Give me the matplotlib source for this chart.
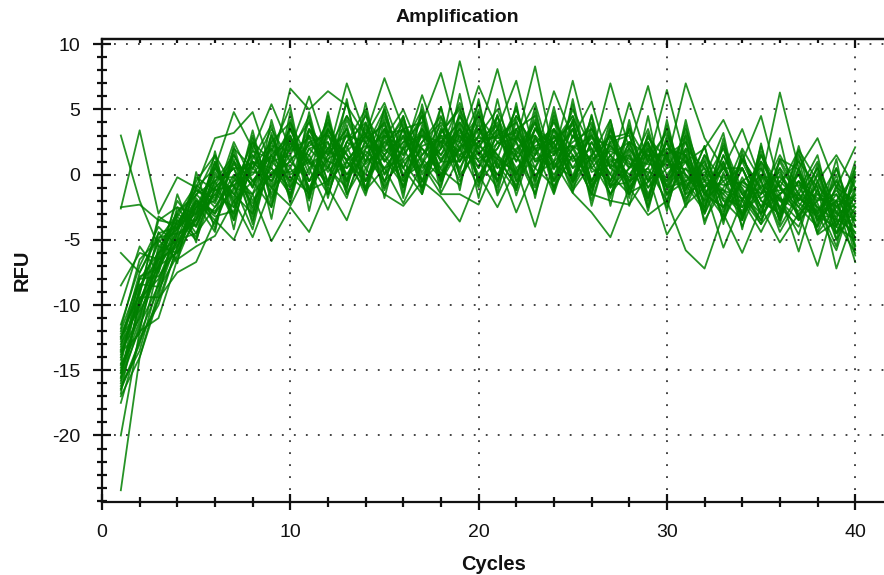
import matplotlib
matplotlib.use("Agg")
import matplotlib.pyplot as plt
from matplotlib.ticker import MultipleLocator

plt.rcParams["font.family"] = ["Liberation Sans", "DejaVu Sans"]
plt.rcParams["axes.unicode_minus"] = False

cycles = list(range(1, 41))

# RFU per well
s01 = [3.0,-2.0,-5.5,-4.2,-2.5,0.5,-1.5,1.0,-0.5,2.8,1.0,3.5,0.5,3.0,1.5,4.0,0.8,3.2,5.0,2.0,4.5,1.0,3.5,2.0,4.5,0.5,2.2,0.5,2.5,-0.5,1.5,-1.5,0.5,-2.0,1.0,-1.5,0.0,-3.0,-0.5,-2.5]
s02 = [-2.6,3.4,-3.0,-0.2,-1.0,2.8,3.2,4.8,0.5,6.6,5.0,6.4,5.3,3.0,5.5,1.5,6.1,2.0,8.7,3.0,8.1,2.5,8.3,1.5,7.2,1.5,7.0,2.0,6.8,1.0,7.0,2.8,0.5,3.5,-0.5,6.3,0.5,2.8,-1.0,2.1]
s03 = [-2.5,-2.3,-3.5,-3.8,-1.0,0.5,4.8,2.0,5.4,2.0,6.0,1.5,7.0,3.0,7.4,3.5,4.0,7.8,2.5,6.8,3.5,7.2,1.5,6.4,2.8,5.6,0.5,5.5,1.0,6.5,1.0,2.0,4.2,1.0,4.5,-1.0,1.9,-0.5,1.5,-1.0]
s04 = [-24.2,-14.0,-9.5,-7.5,-6.7,-3.5,-5.0,-1.5,-5.1,-2.5,-4.4,-1.0,-3.5,0.5,-1.5,-2.4,-0.5,-1.7,-3.6,0.0,-2.5,0.5,-4.0,1.0,-1.4,-2.9,-4.8,-1.0,-3.1,-2.0,-5.8,-7.2,-3.0,-6.0,-2.5,-5.2,-3.0,-7.0,-2.0,-6.7]
s05 = [-20.0,-12.0,-11.0,-6.5,-5.5,-4.7,-2.0,-4.8,-1.0,-2.4,0.5,-2.7,1.0,-1.2,0.5,-2.2,0.8,-1.5,-1.5,-2.3,1.0,-2.9,0.5,-0.9,1.5,-1.5,-2.0,-2.3,0.0,-4.6,-2.3,-1.0,-5.6,-2.0,-4.4,-1.5,-5.9,-1.0,-7.2,-3.0]
s06 = [-6.0,-7.5,-4.5,-4.0,-1.5,-0.5,1.5,-1.0,2.0,0.5,3.5,0.5,4.5,1.0,3.5,0.5,3.0,1.5,4.5,1.5,3.5,1.0,4.0,0.5,3.5,-0.5,2.5,3.0,-0.5,2.5,-0.5,1.0,-2.5,0.5,-2.5,1.0,-2.0,0.5,-4.0,-0.5]
s07 = [-8.5,-6.0,-6.5,-3.5,-3.5,1.0,-2.5,2.0,-1.5,3.0,-0.5,2.5,-0.5,4.0,0.0,3.5,-0.5,3.5,1.0,4.5,0.5,3.5,-0.5,3.5,0.5,3.0,-1.0,2.5,-1.5,1.5,2.5,-2.5,1.0,-3.5,0.5,-3.5,0.5,-3.5,0.0,-5.0]
s08 = [-10.0,-5.5,-7.5,-2.5,-4.5,-1.0,0.5,-2.5,1.5,-0.5,2.5,3.0,0.0,2.5,4.0,0.0,2.0,0.5,3.5,0.5,3.0,4.0,0.5,3.0,-0.5,2.5,0.0,-1.5,2.0,-1.0,1.0,-1.0,0.5,-1.5,-3.0,0.5,-1.5,-2.5,-3.5,1.0]
s09 = [-11.5,-7.0,-4.0,-5.5,-1.5,-3.0,1.0,-0.5,-2.5,2.5,-1.0,1.5,3.5,-0.5,2.5,1.5,3.5,-0.5,2.0,3.5,0.5,2.0,3.0,-0.5,3.0,1.0,-1.5,1.5,-1.0,1.5,-1.5,-0.5,-3.0,1.5,-2.0,-3.0,0.5,-3.5,-1.5,-4.5]
s10 = [-12.0,-8.0,-6.0,-4.0,-2.0,-3.5,-0.5,1.5,0.0,1.0,3.0,-0.5,2.5,1.5,-0.5,3.0,0.5,2.0,3.5,-0.5,2.5,3.5,1.0,1.5,3.5,-1.0,1.5,0.0,2.0,-1.5,0.5,-2.0,-0.5,0.5,-2.5,-0.5,-2.0,0.5,-2.5,-3.5]
s11 = [-12.5,-9.0,-5.0,-6.5,-3.0,-1.5,-2.5,0.5,2.5,-1.0,1.5,4.0,1.0,-0.5,3.0,2.0,-0.5,3.5,1.5,2.5,4.0,0.0,2.5,3.5,1.0,2.0,-0.5,2.0,0.0,2.5,-1.0,0.5,-1.5,-3.0,0.0,-2.0,-3.5,-0.5,-4.5,-1.5]
s12 = [-13.0,-10.0,-7.0,-3.0,-4.0,0.0,-1.5,-3.0,1.0,3.5,0.5,2.0,4.5,2.5,0.5,2.5,4.0,1.0,4.0,1.0,2.0,4.5,2.0,0.0,2.0,3.0,0.5,-0.5,3.0,0.0,2.0,-1.5,-2.5,-0.5,-1.5,1.5,-1.0,-3.0,-2.0,-5.5]
s13 = [-13.5,-11.0,-6.0,-5.0,-1.0,-2.5,0.0,-1.5,0.5,-1.5,2.0,0.5,-1.0,3.5,1.5,-0.5,1.5,3.0,0.5,3.0,1.5,0.0,3.5,2.0,-1.0,1.5,3.0,-0.5,0.5,-2.0,1.5,-3.0,0.0,-1.0,-3.5,-0.5,1.0,-1.0,-5.0,-2.5]
s14 = [-14.0,-9.5,-8.0,-4.5,-3.5,-0.5,-3.5,1.0,-0.5,1.5,-2.0,3.0,1.5,0.0,4.5,1.0,-1.0,2.5,4.0,2.0,-0.5,3.0,1.5,3.5,1.5,-0.5,2.0,1.0,-2.0,3.0,0.0,-1.0,1.0,-2.5,-1.0,-2.5,-0.5,-2.0,0.5,-3.5]
s15 = [-14.5,-12.0,-5.5,-6.0,-2.5,-2.0,1.5,-1.0,3.0,0.0,1.0,-1.5,2.5,4.0,1.0,3.5,2.0,0.0,2.5,4.5,2.5,1.5,-1.0,2.5,4.5,0.5,-0.5,3.5,1.0,-0.5,3.5,-0.5,-1.5,2.0,-0.5,-4.0,-1.5,1.0,-3.0,-4.0]
s16 = [-15.0,-10.5,-7.5,-3.5,-5.0,-1.0,0.5,0.5,-1.0,2.0,4.0,1.0,0.5,2.0,3.0,-1.0,2.5,4.0,2.0,-1.0,3.5,2.5,0.0,1.0,2.5,3.5,1.5,-1.5,1.5,1.5,-2.0,1.5,-2.0,-3.5,1.5,-1.0,-3.0,-1.5,-2.0,0.0]
s17 = [-15.5,-8.5,-6.5,-5.5,-2.0,-3.0,-1.0,2.5,1.0,-0.5,2.0,2.5,-1.5,1.0,2.0,4.5,-0.5,1.0,3.0,1.0,-1.0,3.5,4.5,-1.0,1.5,-1.5,3.5,0.5,1.5,-2.5,2.0,0.5,-3.5,-0.5,0.5,-2.5,-4.0,-0.5,-3.5,-6.0]
s18 = [-16.0,-11.5,-8.5,-4.0,-3.0,0.5,-2.0,-0.5,1.5,3.0,-0.5,0.5,3.0,2.5,-1.0,2.0,3.0,2.5,-0.5,2.5,3.0,0.5,2.0,2.5,-0.5,2.5,0.0,3.5,-0.5,1.0,0.0,-2.0,1.5,-1.5,-3.5,0.0,-2.5,-4.0,-1.0,-2.0]
s19 = [-16.5,-13.0,-7.0,-6.0,-3.5,-1.5,1.0,-2.0,0.0,2.0,1.5,-1.0,2.0,4.5,2.0,0.5,-1.5,3.0,2.5,0.5,4.5,-0.5,1.5,4.0,2.0,-1.0,1.0,1.5,-2.5,2.0,1.5,-3.5,-1.0,1.0,-2.0,-3.0,-0.5,-4.5,-2.5,-1.0]
s20 = [-17.0,-14.0,-9.0,-5.0,-4.5,-2.5,-0.5,0.0,2.0,-1.5,3.5,2.0,0.0,1.5,3.5,-1.0,3.5,1.5,3.5,1.5,0.0,2.5,-1.5,3.0,0.5,1.5,-1.0,0.5,2.5,-1.5,-0.5,0.0,-2.0,-2.0,1.0,-1.0,-2.5,0.0,-4.0,-5.0]
s21 = [-17.5,-12.5,-10.0,-5.5,-2.5,-1.0,-3.0,1.5,-1.0,0.5,-1.5,3.5,1.0,3.0,-0.5,1.0,2.5,4.5,1.0,3.5,1.5,-1.0,3.0,1.5,3.5,-2.0,2.5,-0.5,0.5,3.5,-1.5,1.5,-0.5,-3.0,-1.5,0.5,-3.5,-2.0,-1.5,-3.5]
s22 = [-11.8,-6.5,-5.0,-3.0,-0.8,-2.0,2.0,0.5,3.5,1.0,-0.5,2.0,3.0,0.5,2.5,3.5,1.0,-1.0,4.5,2.5,0.0,1.5,4.0,-0.5,2.0,4.0,-0.5,2.5,1.5,-1.0,2.5,-0.5,2.0,-1.5,0.0,-3.5,1.5,-1.5,-3.0,0.5]
s23 = [-12.8,-7.5,-4.8,-4.5,-0.5,1.5,-1.0,-1.5,2.5,4.0,1.0,-0.5,1.0,3.0,1.0,2.5,3.0,-0.5,3.0,0.0,2.0,5.0,1.0,2.5,4.0,-0.5,1.5,2.5,-1.0,0.5,3.0,-1.5,0.5,0.5,-3.0,-1.5,-0.5,-2.5,-4.5,-1.0]
s24 = [-14.2,-9.0,-3.5,-2.5,-3.0,1.0,-3.5,1.0,0.5,-1.0,2.5,1.0,5.5,-0.5,1.5,3.0,0.0,2.0,5.5,1.5,3.5,-0.5,3.5,1.0,5.0,2.0,-1.5,0.5,3.5,-1.0,-0.5,-2.5,1.5,-2.0,1.5,-2.0,-1.5,-4.0,0.5,-4.0]
s25 = [-15.2,-10.0,-6.2,-2.0,-4.0,-0.5,0.5,-3.5,1.0,1.5,4.5,-1.5,2.5,5.0,0.0,2.0,4.5,0.0,2.0,5.5,-0.5,4.5,2.0,-1.5,3.0,1.0,3.0,-1.0,1.0,2.0,1.0,-1.5,-2.5,0.5,-2.5,-1.5,0.0,-3.5,-2.0,-2.5]
s26 = [-13.2,-8.0,-7.8,-5.8,-1.8,-3.8,-0.2,1.0,-2.5,3.5,0.0,4.5,-1.5,2.0,5.0,0.5,3.5,1.0,1.0,3.0,5.0,1.5,-1.5,4.5,-0.5,3.5,0.5,2.0,-0.5,2.5,-2.5,0.8,-1.8,-2.5,0.8,-2.8,-1.2,1.5,-4.5,-3.2]
s27 = [-15.8,-9.8,-5.8,-3.2,-1.2,-1.8,2.5,-0.5,1.5,-1.8,3.0,1.5,3.5,-1.0,2.8,5.0,1.5,3.8,0.0,1.8,-0.5,2.8,5.5,0.5,2.2,-0.8,1.2,-0.8,2.2,0.5,1.0,-3.0,0.8,-3.2,-0.8,-1.8,-2.8,-0.8,-2.8,-4.8]
s28 = [-16.2,-13.5,-8.2,-4.8,-2.8,0.2,-1.8,3.0,-1.8,1.2,2.2,3.2,-0.5,1.8,0.5,1.2,4.5,-0.8,3.8,-0.5,3.2,1.8,0.5,4.2,-1.2,0.8,3.0,-1.0,1.2,3.2,-0.2,-0.8,-1.2,-1.8,-3.8,1.2,-1.5,-3.2,-3.2,-1.8]
s29 = [-12.2,-9.2,-3.2,-4.2,-2.2,-2.8,-1.2,1.8,1.2,2.8,-1.2,1.2,2.2,-1.2,3.5,-0.2,2.2,2.8,1.8,3.8,1.2,-0.8,2.8,0.8,-0.2,3.2,-0.8,1.8,-1.8,1.8,-1.2,2.2,-2.8,1.2,-1.2,-3.2,0.2,-2.2,-5.5,0.2]
s30 = [-14.8,-10.8,-6.8,-5.2,-3.2,-0.2,-0.2,-2.2,0.2,0.2,1.2,-0.8,3.2,0.8,2.2,4.2,1.2,-0.2,2.2,2.8,2.8,3.2,-0.2,2.2,1.2,2.8,2.2,0.8,0.2,-0.2,1.8,-2.2,-0.2,-0.8,-1.8,-0.8,-3.2,-1.2,-3.8,-2.2]
s31 = [-13.8,-8.8,-5.2,-3.8,-1.2,-2.2,0.8,-0.8,2.2,1.8,2.8,0.2,1.8,3.2,1.2,-0.8,3.2,1.2,3.2,2.2,1.2,0.2,2.2,2.8,3.8,0.2,0.8,-0.2,2.8,1.2,-0.8,0.2,-1.2,-2.8,-0.2,-0.2,-1.8,-2.8,-1.2,-3.0]
s32 = [-15.2,-11.2,-7.2,-4.6,-3.8,-1.2,-0.8,0.2,-0.2,2.4,0.8,1.8,1.2,2.2,1.8,2.8,0.2,2.6,1.4,1.2,2.4,2.8,1.2,1.8,2.2,1.2,1.8,1.2,0.8,0.8,0.4,-0.4,-0.8,-0.6,-1.4,-1.2,-0.8,-1.8,-2.4,-1.6]
s33 = [-13.6,-12.2,-8.8,-6.2,-2.2,-4.4,1.8,-3.2,3.2,-1.8,4.8,-0.8,5.8,-1.2,5.2,-0.5,4.8,-0.2,6.2,-0.8,5.8,-0.2,5.2,-1.2,5.8,-0.8,4.2,-1.8,4.5,-2.2,4.2,-1.8,2.2,-3.2,2.2,-2.8,1.8,-3.8,1.2,-5.8]
s34 = [-16.8,-9.4,-9.4,-3.2,-4.8,1.8,-4.2,2.8,-3.4,4.2,-1.8,4.8,-1.2,5.5,-0.8,4.5,-1.2,5.2,-1.2,5.8,-0.8,5.5,-1.8,4.8,-0.2,4.5,-2.4,3.8,-1.8,3.8,-1.2,2.2,-3.8,1.8,-3.2,2.8,-3.4,0.8,-5.0,0.6]
s35 = [-12.4,-10.4,-4.4,-6.8,0.2,-4.2,2.2,-2.8,4.2,-0.8,4.2,-1.8,3.8,-1.4,4.2,-1.8,5.4,-0.4,4.8,-1.8,4.6,-1.2,4.8,-0.4,5.4,-1.6,3.8,-2.4,3.2,-1.6,3.8,-2.8,2.8,-4.2,2.4,-3.8,1.2,-4.4,-0.8,-6.2]
s36 = [-14.6,-7.8,-7.2,-1.5,-5.2,0.8,-2.2,3.4,-2.2,4.8,-2.8,3.8,-0.8,4.8,-1.8,3.8,-1.5,4.4,0.2,5.0,-1.4,4.2,-0.8,5.2,-0.8,3.8,-1.8,4.2,-2.4,4.2,-1.8,-0.2,3.2,-3.4,1.8,-3.4,2.2,-2.8,-0.4,-5.4]
s37 = [-15.6,-11.8,-6.4,-2.8,-1.6,1.4,-3.2,2.4,-0.8,3.8,-1.2,-0.5,4.2,1.0,4.8,-1.4,3.8,0.4,-0.8,4.2,-1.6,1.8,4.2,-1.4,4.2,-2.4,2.8,3.2,-2.8,2.8,-0.8,-2.8,2.4,-1.2,-3.8,-1.8,-4.6,0.2,-3.4,-4.4]
s38 = [-12.6,-8.4,-8.6,-5.0,-3.4,-0.8,1.2,-3.8,2.8,-0.2,-1.4,4.2,-0.4,3.8,-1.2,2.2,5.0,-1.4,1.4,4.8,0.8,-1.2,3.6,2.4,-1.4,4.6,-0.8,-0.6,2.4,-2.8,3.2,-1.2,-3.2,1.2,-1.0,0.2,-2.2,-3.2,-4.0,-0.2]
s39 = [-16.4,-12.8,-9.6,-5.6,-2.0,-3.2,-2.8,1.2,3.8,-2.2,3.4,0.8,-1.8,2.8,3.8,-0.2,0.8,5.2,-0.2,2.2,3.8,-1.6,2.8,0.4,4.2,-1.2,3.4,-1.2,1.8,-0.8,2.8,-3.8,0.2,-4.0,-0.4,-4.4,-1.8,-3.0,-5.8,-1.2]
s40 = [-13.4,-9.6,-6.6,-4.4,-0.2,-1.2,-0.8,-4.2,1.8,5.2,-1.8,3.4,1.6,-1.6,3.2,3.4,-1.0,3.2,5.2,-0.6,1.2,5.2,-0.4,3.4,-0.6,1.4,4.2,-1.4,-0.6,1.2,-2.2,1.2,-3.4,-0.2,-3.0,1.2,0.4,-4.6,-3.6,-2.8]
all_wells = [s01, s02, s03, s04, s05, s06, s07, s08, s09, s10, s11, s12, s13, s14, s15, s16,
             s17, s18, s19, s20, s21, s22, s23, s24, s25, s26, s27, s28, s29, s30, s31, s32,
             s33, s34, s35, s36, s37, s38, s39, s40]

fig = plt.figure(figsize=(8.84, 5.75), dpi=100)
ax = fig.add_axes([102 / 884, 1 - 502 / 575, (884 - 102) / 884, (502 - 39) / 575])

for well in all_wells:
    ax.plot(cycles, well, color="#008000", lw=1.3, alpha=0.85, clip_on=False)

ax.set_xlim(0, 41.53)
ax.set_ylim(-25.1, 10.4)
ax.spines["right"].set_visible(False)
for side in ["left", "bottom", "top"]:
    ax.spines[side].set_linewidth(1.6)
    ax.spines[side].set_color("#111111")

ax.set_xticks([0, 10, 20, 30, 40])
ax.set_yticks([-20, -15, -10, -5, 0, 5, 10])
ax.xaxis.set_minor_locator(MultipleLocator(2))
ax.yaxis.set_minor_locator(MultipleLocator(1))
ax.tick_params(axis="y", which="major", direction="inout", length=13, width=1.6, labelsize=14, pad=9, colors="#111111")
ax.tick_params(axis="y", which="minor", direction="inout", length=6.5, width=1.6, colors="#111111")
ax.tick_params(axis="x", which="major", direction="inout", length=11, width=1.6, labelsize=14, pad=10.5, colors="#111111")
ax.tick_params(axis="x", which="minor", direction="inout", length=6.5, width=1.6, colors="#111111")

# ticks along the top only point inwards
top = ax.secondary_xaxis("top")
top.set_xticks([0, 10, 20, 30, 40])
top.set_xticklabels([])
top.xaxis.set_minor_locator(MultipleLocator(2))
top.tick_params(axis="x", which="major", direction="in", length=6.5, width=1.6, colors="#111111")
top.tick_params(axis="x", which="minor", direction="in", length=3.2, width=1.6, colors="#111111")
top.spines["top"].set_linewidth(1.6)
top.spines["top"].set_color("#111111")

# sparse dots, drawn above the curves
ax.set_axisbelow(False)
ax.grid(True, which="major", color="#111111", lw=1.1, linestyle=(0, (1.2, 6.65)))

fig.text(457 / 884, 1 - 17 / 575, "Amplification", fontsize=14, fontweight="bold", ha="center", va="center", color="#111111")
fig.text(494 / 884, 1 - 564 / 575, "Cycles", fontsize=14.5, fontweight="bold", ha="center", va="center", color="#111111")
fig.text(22 / 884, 1 - 270 / 575, "RFU", fontsize=14.5, fontweight="bold", ha="center", va="center", rotation=90, color="#111111")

fig.savefig("out.png", dpi=100)
